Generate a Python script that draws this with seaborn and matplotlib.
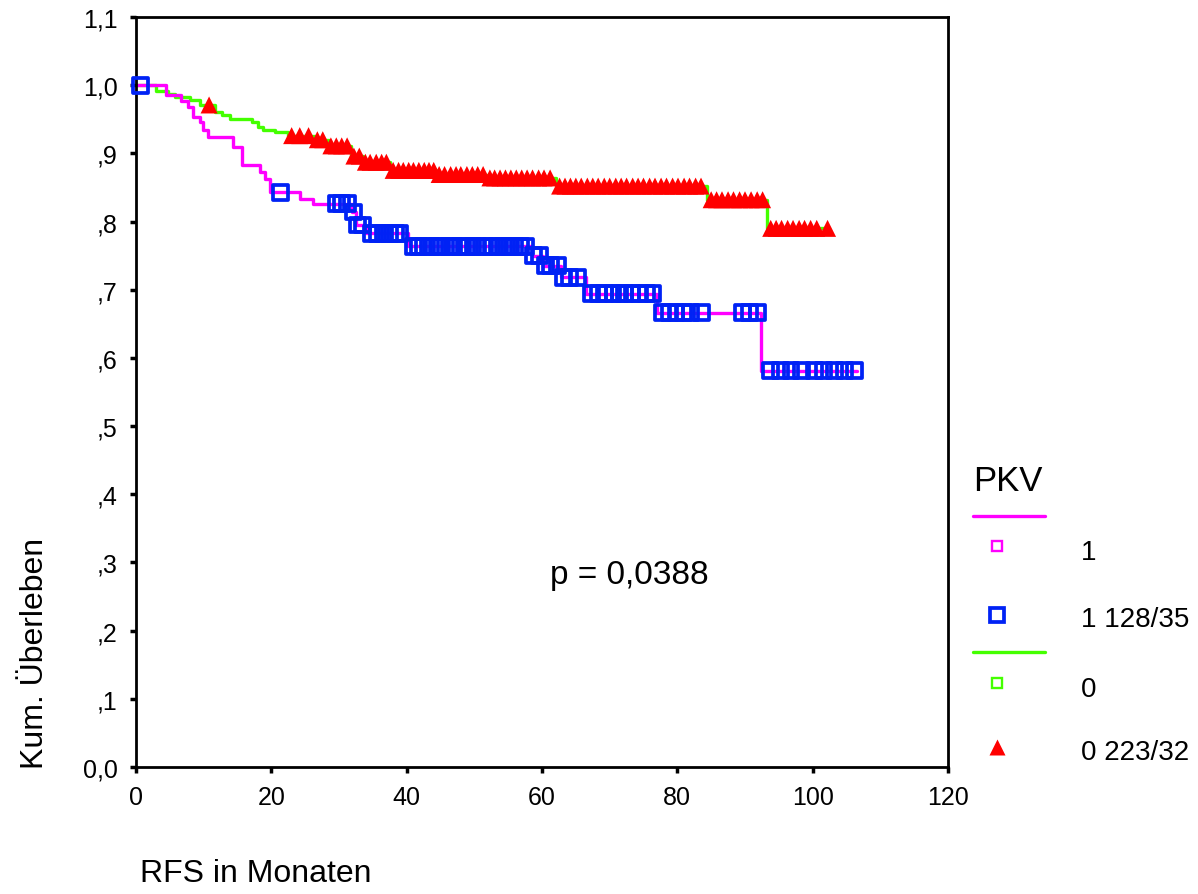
import numpy as np
import pandas as pd
import matplotlib
matplotlib.use("Agg")
import matplotlib.pyplot as plt
from matplotlib.lines import Line2D
from matplotlib.ticker import FixedLocator
import seaborn as sns

# ---------------- data ----------------
# Group PKV = 1 (Kaplan-Meier step curve: step times in months, survival after the step)
times1 = [0, 4.5, 6.7, 7.7, 8.4, 9.4, 9.9, 10.6, 14.3, 15.6, 18.3, 19.0, 19.8,
          24.2, 26.1, 31.9, 32.5, 34.0, 40.2, 58.5, 60.2, 62.8, 66.5, 77.0, 92.3]
surv1 = [1.0, 0.985, 0.977, 0.968, 0.953, 0.946, 0.934, 0.924, 0.909, 0.883, 0.872, 0.862, 0.843,
         0.833, 0.826, 0.814, 0.795, 0.783, 0.764, 0.750, 0.735, 0.718, 0.694, 0.666, 0.581]
end1 = 106.5
cens1 = [0.6, 21.4, 29.6, 30.4, 31.3, 32.2, 32.8, 33.5,
         34.8, 35.7, 36.6, 37.5, 38.3, 39.0,
         41.0, 41.8, 42.5, 43.6, 44.5, 45.2, 46.3, 47.0, 47.9, 48.8, 49.8, 50.5,
         51.5, 52.6, 53.4, 54.3, 55.2, 56.0, 56.9, 57.6,
         58.8, 59.6, 60.5, 61.3, 62.3, 63.2, 64.1, 65.3,
         67.3, 68.4, 69.2, 70.5, 71.4, 72.2, 73.3, 74.4, 75.5, 76.4,
         77.8, 78.9, 79.8, 80.9, 81.9, 83.6,
         89.6, 90.6, 91.8,
         93.8, 95.2, 96.8, 98.4, 100.3, 101.6, 103.2, 104.7, 106.2]

# Group PKV = 0
times0 = [0, 3.0, 4.7, 5.8, 8.0, 9.4, 11.7, 12.7, 13.9, 17.1, 18.0, 18.7, 20.5, 22.5,
          26.4, 28.5, 31.8, 33.5, 37.5, 44.4, 51.8, 62.0, 84.4, 93.2]
surv0 = [1.0, 0.991, 0.987, 0.983, 0.978, 0.971, 0.960, 0.956, 0.951, 0.946, 0.938, 0.935, 0.932, 0.926,
         0.920, 0.911, 0.896, 0.887, 0.875, 0.869, 0.864, 0.852, 0.832, 0.790]
end0 = 102.4
cens0 = [10.8, 23.0, 24.2, 25.5, 26.8, 27.6,
         28.8, 29.6, 30.4, 31.2, 32.2, 33.0,
         33.9, 34.6, 35.5, 36.3, 37.0,
         38.0, 38.8, 39.5, 40.3, 41.0, 41.8, 42.6, 43.3, 44.0,
         44.8, 45.6, 46.5, 47.3, 48.0, 48.9, 49.7, 50.5, 51.3,
         52.3, 53.0, 53.8, 54.6, 55.4, 56.2, 57.0, 57.8, 58.6, 59.5, 60.3, 61.2,
         62.6, 63.4, 64.2, 65.0, 65.8, 66.7, 67.5, 68.3, 69.2, 70.0, 70.9, 71.7, 72.5,
         73.4, 74.2, 75.0, 75.9, 76.7, 77.6, 78.4, 79.3, 80.1, 81.0, 81.8, 82.7, 83.5,
         85.0, 85.8, 86.6, 87.5, 88.3, 89.2, 90.0, 90.9, 91.8, 92.6,
         93.8, 94.6, 95.4, 96.3, 97.1, 98.0, 98.8, 99.7, 100.6, 102.2]

y_ticks = [0.0, 0.1, 0.2, 0.3, 0.4, 0.5, 0.6, 0.7, 0.8, 0.9, 1.0, 1.1]
y_ticklabels = ["0,0", ",1", ",2", ",3", ",4", ",5", ",6", ",7", ",8", ",9", "1,0", "1,1"]
x_ticks = [0, 20, 40, 60, 80, 100, 120]

legend_title = "PKV"
legend_labels = ["1", "1 128/35", "0", "0 223/32"]
p_text = "p = 0,0388"
xlabel = "RFS in Monaten"
ylabel = "Kum. Überleben"

MAGENTA = "#FF00FF"
BLUE = "#0022F5"
GREEN = "#44FF00"
RED = "#FF0000"

# ---------------- figure ----------------
sns.set_style("white")
plt.rcParams["font.family"] = ["Liberation Sans", "DejaVu Sans"]
plt.rcParams["text.color"] = "black"
plt.rcParams["xtick.color"] = "black"
plt.rcParams["ytick.color"] = "black"
plt.rcParams["xtick.labelcolor"] = "black"
plt.rcParams["ytick.labelcolor"] = "black"

W, H = 1198, 895
fig = plt.figure(figsize=(W / 100, H / 100), dpi=100)
ax = fig.add_axes([136 / W, 1 - 768 / H, (948 - 136) / W, 750 / H])


def step_df(times, surv, end):
    t = list(times) + [end]
    s = list(surv) + [surv[-1]]
    return pd.DataFrame({"t": t, "s": s})


def surv_at(times, surv, pts):
    idx = np.searchsorted(np.asarray(times), np.asarray(pts), side="right") - 1
    return np.asarray(surv)[idx]


d1 = step_df(times1, surv1, end1)
d0 = step_df(times0, surv0, end0)

sns.lineplot(data=d0, x="t", y="s", ax=ax, color=GREEN, lw=2.4,
             drawstyle="steps-post", estimator=None, sort=False, zorder=2)
sns.lineplot(data=d1, x="t", y="s", ax=ax, color=MAGENTA, lw=2.4,
             drawstyle="steps-post", estimator=None, sort=False, zorder=2)

c0 = pd.DataFrame({"t": cens0, "s": surv_at(times0, surv0, cens0)})
c1 = pd.DataFrame({"t": cens1, "s": surv_at(times1, surv1, cens1)})

sns.scatterplot(data=c0, x="t", y="s", ax=ax, marker="^", s=150, color=RED,
                edgecolor="none", linewidth=0, zorder=3, clip_on=False)
sns.scatterplot(data=c1, x="t", y="s", ax=ax, marker="s", s=115,
                facecolors="none", edgecolors=BLUE, linewidths=2.7, zorder=3, clip_on=False)

ax.set_xlim(0, 120)
ax.set_ylim(0, 1.1)
ax.xaxis.set_major_locator(FixedLocator(x_ticks))
ax.set_xticklabels([str(v) for v in x_ticks])
ax.yaxis.set_major_locator(FixedLocator(y_ticks))
ax.set_yticklabels(y_ticklabels)
ax.set_xlabel("")
ax.set_ylabel("")
for sp in ax.spines.values():
    sp.set_visible(True)
    sp.set_color("black")
    sp.set_linewidth(2.0)
ax.tick_params(axis="both", direction="out", length=4, width=2.5, color="black",
               labelcolor="black", left=True, bottom=True)
ax.tick_params(axis="x", labelsize=18, pad=9)
ax.tick_params(axis="y", labelsize=18, pad=9)

ax.text(0.608, 0.257, p_text, transform=ax.transAxes, fontsize=24,
        ha="center", va="center", color="black")

fig.text(140 / W, 1 - 889 / H, xlabel, fontsize=23, ha="left", va="bottom", color="black")
fig.text(35 / W, 1 - 653 / H, ylabel, fontsize=23, rotation=90, ha="center", va="center",
         color="black")


# ---------------- manual legend ----------------
def fx(px):
    return px / W


def fy(py):
    return 1 - py / H


fig.text(fx(973), fy(482), legend_title, fontsize=25, ha="left", va="center", color="black")
fig.add_artist(Line2D([fx(973), fx(1045)], [fy(517), fy(517)], color=MAGENTA, lw=2.4,
                      transform=fig.transFigure))
fig.add_artist(Line2D([fx(997)], [fy(547)], marker="s", ms=6.5, mfc="none", mec=MAGENTA,
                      mew=1.7, ls="none", transform=fig.transFigure))
fig.add_artist(Line2D([fx(997)], [fy(616)], marker="s", ms=10.5, mfc="none", mec=BLUE,
                      mew=2.7, ls="none", transform=fig.transFigure))
fig.add_artist(Line2D([fx(973), fx(1045)], [fy(653), fy(653)], color=GREEN, lw=2.4,
                      transform=fig.transFigure))
fig.add_artist(Line2D([fx(997)], [fy(684)], marker="s", ms=6.5, mfc="none", mec=GREEN,
                      mew=1.7, ls="none", transform=fig.transFigure))
fig.add_artist(Line2D([fx(997)], [fy(748)], marker="^", ms=11, mfc=RED, mec="none",
                      ls="none", transform=fig.transFigure))
for lab, py in zip(legend_labels, [553, 620, 690, 753]):
    fig.text(fx(1081), fy(py), lab, fontsize=20, ha="left", va="center", color="black")

fig.savefig("out.png", dpi=100)
